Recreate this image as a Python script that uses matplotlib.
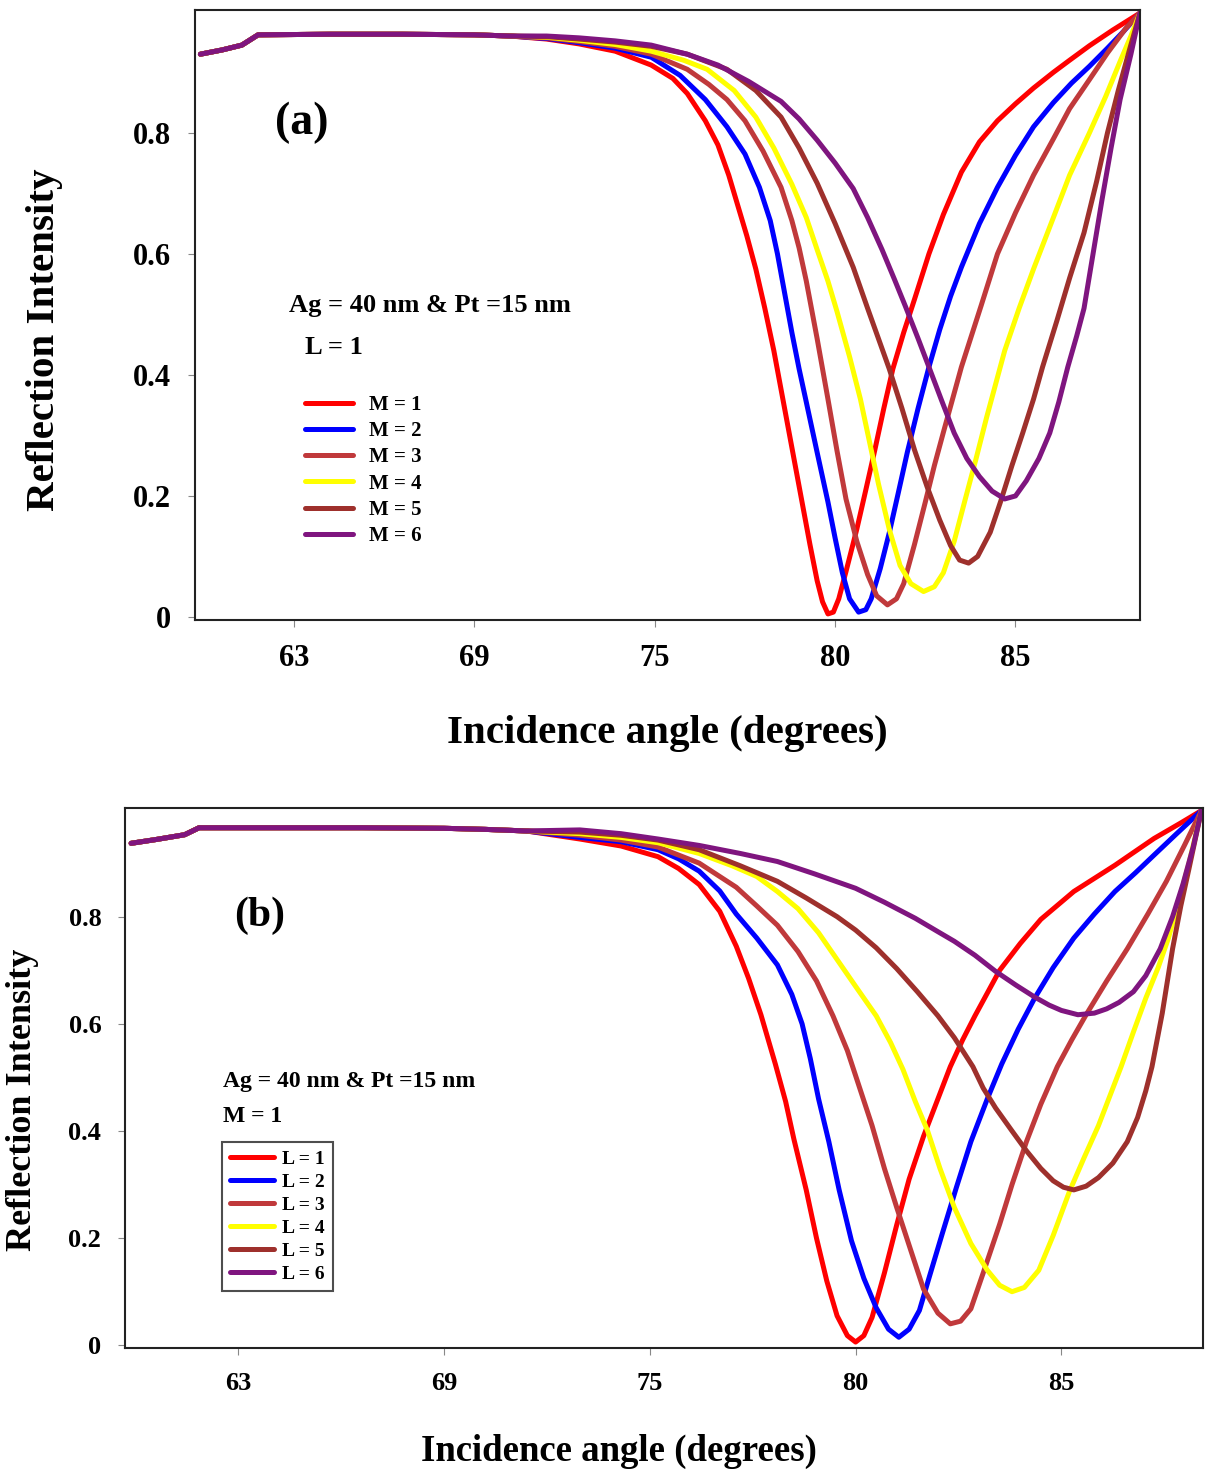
import matplotlib
matplotlib.use("Agg")
import matplotlib.pyplot as plt

plt.rcParams['font.family'] = ['Liberation Serif', 'DejaVu Serif']
plt.rcParams['font.weight'] = 'bold'

colors = ['#ff0000', '#0000ff', '#c0393b', '#ffff00', '#9e302c', '#7f157f']
tick_pos = [65, 70, 75, 80, 85]
tick_lab = ['63', '69', '75', '80', '85']
ytick_pos = [0, 0.2, 0.4, 0.6, 0.8]
ytick_lab = ['0', '0.2', '0.4', '0.6', '0.8']

# ---- panel (a): L = 1, M = 1..6 ----
a_head_x = [62.4, 63.0, 63.55, 64.0, 66.0, 68.0, 70.0, 71.0]
a_head_y = [0.930, 0.937, 0.945, 0.962, 0.963, 0.963, 0.962, 0.960]

a_x = [
    [72.0, 72.9, 73.9, 74.9, 75.5, 75.9, 76.4, 76.75, 77.05, 77.3, 77.55, 77.8, 78.05, 78.3,
     78.55, 78.8, 79.05, 79.3, 79.5, 79.65, 79.8, 79.95, 80.1, 80.3, 80.6, 80.85, 81.1, 81.35,
     81.6, 81.9, 82.2, 82.6, 83.0, 83.5, 84.0, 84.5, 85.0, 85.5, 86.05, 86.5, 87.05, 87.7, 88.45],
    [72.0, 72.9, 73.9, 74.9, 75.7, 76.4, 77.0, 77.5, 77.9, 78.2, 78.4, 78.6, 78.8, 79.0, 79.2,
     79.5, 79.8, 80.0, 80.2, 80.4, 80.65, 80.85, 81.0, 81.25, 81.5, 81.75, 82.0, 82.3, 82.6,
     82.9, 83.2, 83.5, 84.0, 84.5, 85.0, 85.5, 86.05, 86.55, 87.05, 87.55, 88.0, 88.45],
    [72.0, 72.9, 73.9, 74.9, 75.9, 76.5, 77.0, 77.5, 78.0, 78.5, 78.8, 79.0, 79.2, 79.5, 79.8,
     80.05, 80.3, 80.6, 80.9, 81.15, 81.45, 81.7, 81.9, 82.2, 82.5, 82.75, 83.0, 83.5, 84.05,
     84.5, 85.0, 85.5, 86.05, 86.5, 87.05, 87.55, 88.05, 88.45],
    [72.0, 72.9, 73.9, 74.9, 75.8, 76.45, 77.2, 77.8, 78.3, 78.8, 79.2, 79.5, 79.8, 80.05, 80.4,
     80.7, 80.95, 81.2, 81.5, 81.8, 82.1, 82.45, 82.75, 83.0, 83.3, 83.6, 83.9, 84.2, 84.45,
     84.7, 85.1, 85.5, 86.05, 86.5, 87.05, 87.5, 87.9, 88.2, 88.45],
    [72.0, 72.9, 73.9, 74.9, 75.9, 77.0, 77.8, 78.5, 79.0, 79.5, 80.0, 80.5, 80.9, 81.2, 81.5,
     81.85, 82.2, 82.55, 82.9, 83.2, 83.45, 83.7, 83.95, 84.3, 84.6, 84.9, 85.2, 85.5, 85.75,
     86.15, 86.5, 86.9, 87.25, 87.55, 87.85, 88.15, 88.45],
    [72.0, 72.9, 73.9, 74.9, 75.9, 76.75, 77.6, 78.5, 79.0, 79.5, 80.0, 80.5, 80.9, 81.3, 81.65,
     81.95, 82.3, 82.6, 82.95, 83.3, 83.65, 84.0, 84.35, 84.7, 85.0, 85.3, 85.65, 85.95, 86.2,
     86.45, 86.7, 86.9, 87.15, 87.4, 87.65, 87.9, 88.2, 88.45],
]
a_y = [
    [0.955, 0.947, 0.935, 0.912, 0.89, 0.865, 0.82, 0.78, 0.73, 0.68, 0.63, 0.575, 0.51, 0.44,
     0.36, 0.28, 0.2, 0.12, 0.06, 0.025, 0.005, 0.008, 0.03, 0.075, 0.145, 0.21, 0.276, 0.345,
     0.41, 0.47, 0.525, 0.6, 0.665, 0.735, 0.785, 0.82, 0.848, 0.874, 0.90, 0.92, 0.944, 0.97, 0.998],
    [0.956, 0.949, 0.94, 0.925, 0.895, 0.855, 0.81, 0.765, 0.71, 0.655, 0.60, 0.535, 0.47, 0.41,
     0.355, 0.272, 0.19, 0.13, 0.073, 0.03, 0.008, 0.012, 0.03, 0.08, 0.139, 0.205, 0.272, 0.345,
     0.413, 0.475, 0.53, 0.578, 0.65, 0.71, 0.763, 0.81, 0.85, 0.882, 0.91, 0.94, 0.968, 0.998],
    [0.957, 0.951, 0.943, 0.93, 0.905, 0.88, 0.855, 0.82, 0.77, 0.71, 0.655, 0.61, 0.555, 0.46,
     0.36, 0.275, 0.195, 0.125, 0.07, 0.035, 0.02, 0.03, 0.055, 0.12, 0.19, 0.25, 0.305, 0.413,
     0.515, 0.6, 0.668, 0.73, 0.79, 0.84, 0.888, 0.932, 0.972, 0.998],
    [0.958, 0.953, 0.946, 0.935, 0.92, 0.905, 0.87, 0.826, 0.775, 0.715, 0.66, 0.607, 0.555,
     0.505, 0.43, 0.36, 0.29, 0.22, 0.145, 0.085, 0.055, 0.042, 0.05, 0.073, 0.125, 0.193, 0.26,
     0.33, 0.385, 0.44, 0.51, 0.575, 0.66, 0.73, 0.80, 0.86, 0.918, 0.96, 0.998],
    [0.959, 0.955, 0.95, 0.943, 0.93, 0.905, 0.87, 0.826, 0.775, 0.717, 0.65, 0.578, 0.51, 0.46,
     0.41, 0.345, 0.276, 0.215, 0.16, 0.118, 0.094, 0.089, 0.1, 0.14, 0.193, 0.25, 0.304, 0.36,
     0.413, 0.49, 0.56, 0.635, 0.72, 0.80, 0.87, 0.935, 0.998],
    [0.96, 0.957, 0.952, 0.945, 0.93, 0.912, 0.885, 0.852, 0.823, 0.788, 0.75, 0.708, 0.66,
     0.607, 0.557, 0.513, 0.46, 0.413, 0.358, 0.304, 0.262, 0.232, 0.208, 0.195, 0.2, 0.225,
     0.262, 0.304, 0.355, 0.413, 0.465, 0.51, 0.6, 0.69, 0.775, 0.855, 0.93, 0.998],
]
a_labels = ['M = 1', 'M = 2', 'M = 3', 'M = 4', 'M = 5', 'M = 6']

# ---- panel (b): M = 1, L = 1..6 ----
b_head_x = [62.4, 63.0, 63.7, 64.05, 66.0, 68.0, 70.0, 71.0, 72.0]
b_head_y = [0.937, 0.944, 0.953, 0.966, 0.966, 0.966, 0.965, 0.963, 0.960]

b_x = [
    [73.3, 74.3, 75.2, 75.7, 76.2, 76.7, 77.1, 77.4, 77.7, 78.05, 78.3, 78.5, 78.8, 79.05, 79.3,
     79.55, 79.8, 80.0, 80.2, 80.4, 80.7, 81.0, 81.3, 81.65, 82.0, 82.3, 82.6, 82.9, 83.5, 84.0,
     84.5, 85.3, 86.3, 87.25, 87.9, 88.4],
    [73.3, 74.3, 75.2, 75.7, 76.2, 76.7, 77.1, 77.6, 78.1, 78.45, 78.7, 78.9, 79.1, 79.35, 79.6,
     79.9, 80.2, 80.5, 80.8, 81.05, 81.3, 81.55, 81.8, 82.1, 82.45, 82.8, 83.2, 83.55, 83.95,
     84.35, 84.8, 85.3, 85.8, 86.3, 86.8, 87.25, 87.8, 88.4],
    [73.3, 74.3, 75.2, 76.2, 77.1, 77.6, 78.1, 78.6, 79.05, 79.45, 79.8, 80.1, 80.4, 80.7, 81.0,
     81.35, 81.65, 82.0, 82.3, 82.55, 82.8, 83.1, 83.5, 83.8, 84.15, 84.5, 84.9, 85.25, 85.6,
     86.1, 86.6, 87.1, 87.55, 88.0, 88.4],
    [73.3, 74.3, 75.2, 76.2, 77.0, 77.6, 78.1, 78.6, 79.1, 79.55, 80.0, 80.5, 80.85, 81.15, 81.45,
     81.75, 82.05, 82.4, 82.8, 83.2, 83.5, 83.8, 84.1, 84.45, 84.8, 85.2, 85.55, 85.9, 86.15,
     86.45, 86.75, 87.05, 87.35, 87.6, 87.85, 88.1, 88.4],
    [73.3, 74.3, 75.2, 76.2, 77.2, 78.1, 78.8, 79.55, 80.0, 80.5, 81.0, 81.5, 82.0, 82.4, 82.85,
     83.1, 83.4, 83.8, 84.15, 84.5, 84.8, 85.05, 85.3, 85.6, 85.9, 86.25, 86.6, 86.85, 87.05,
     87.2, 87.45, 87.7, 87.9, 88.1, 88.4],
    [73.3, 74.3, 75.2, 76.2, 77.2, 78.1, 79.0, 80.0, 80.7, 81.45, 82.0, 82.4, 82.9, 83.4, 83.9,
     84.35, 84.7, 85.0, 85.4, 85.8, 86.1, 86.4, 86.75, 87.05, 87.4, 87.7, 87.95, 88.2, 88.4],
]
b_y = [
    [0.945, 0.932, 0.912, 0.89, 0.86, 0.81, 0.745, 0.685, 0.617, 0.525, 0.455, 0.385, 0.29, 0.2,
     0.12, 0.055, 0.018, 0.006, 0.018, 0.052, 0.135, 0.225, 0.31, 0.39, 0.46, 0.52, 0.57, 0.615,
     0.7, 0.75, 0.795, 0.847, 0.896, 0.946, 0.975, 0.998],
    [0.948, 0.94, 0.925, 0.908, 0.885, 0.848, 0.805, 0.76, 0.71, 0.655, 0.6, 0.535, 0.46, 0.38,
     0.29, 0.195, 0.125, 0.07, 0.03, 0.015, 0.03, 0.065, 0.13, 0.207, 0.295, 0.38, 0.46, 0.525,
     0.59, 0.648, 0.705, 0.76, 0.805, 0.847, 0.882, 0.915, 0.955, 0.998],
    [0.952, 0.943, 0.93, 0.9, 0.855, 0.82, 0.784, 0.735, 0.68, 0.615, 0.55, 0.48, 0.41, 0.33,
     0.257, 0.175, 0.105, 0.06, 0.04, 0.045, 0.068, 0.135, 0.226, 0.3, 0.38, 0.45, 0.52, 0.57,
     0.617, 0.68, 0.74, 0.805, 0.866, 0.935, 0.998],
    [0.955, 0.948, 0.938, 0.918, 0.895, 0.875, 0.847, 0.815, 0.77, 0.72, 0.67, 0.615, 0.565,
     0.515, 0.455, 0.4, 0.33, 0.257, 0.19, 0.14, 0.112, 0.1, 0.108, 0.14, 0.205, 0.288, 0.35,
     0.41, 0.46, 0.52, 0.585, 0.648, 0.705, 0.76, 0.83, 0.9, 0.998],
    [0.958, 0.952, 0.943, 0.925, 0.895, 0.866, 0.835, 0.80, 0.775, 0.742, 0.703, 0.66, 0.615,
     0.574, 0.52, 0.48, 0.443, 0.4, 0.363, 0.33, 0.307, 0.295, 0.29, 0.297, 0.313, 0.34, 0.38,
     0.425, 0.475, 0.52, 0.62, 0.74, 0.82, 0.89, 0.998],
    [0.962, 0.955, 0.945, 0.933, 0.918, 0.903, 0.88, 0.853, 0.827, 0.797, 0.772, 0.754, 0.728,
     0.698, 0.672, 0.65, 0.635, 0.625, 0.617, 0.62, 0.628, 0.64, 0.66, 0.69, 0.74, 0.80, 0.86,
     0.93, 0.998],
]
b_labels = ['L = 1', 'L = 2', 'L = 3', 'L = 4', 'L = 5', 'L = 6']


def draw_panel(ax, head_x, head_y, xs, ys, labels, fs):
    for i in range(6):
        ax.plot(head_x + xs[i], head_y + ys[i], color=colors[i], lw=3.6,
                solid_joinstyle='round', solid_capstyle='round', label=labels[i])
    ax.set_xlim(62.25, 88.45)
    ax.set_ylim(-0.005, 1.003)
    ax.set_xticks(tick_pos)
    ax.set_xticklabels(tick_lab)
    ax.set_yticks(ytick_pos)
    ax.set_yticklabels(ytick_lab)
    ax.tick_params(direction='out', length=5, width=0.8, color='#888888',
                   labelsize=fs, pad=12)
    for s in ax.spines.values():
        s.set_linewidth(1.5)
        s.set_color('#222222')


fig = plt.figure(figsize=(12.05, 14.73), dpi=100)

ax1 = fig.add_axes([0.1618, 0.5791, 0.7842, 0.4141])
draw_panel(ax1, a_head_x, a_head_y, a_x, a_y, a_labels, 22)
ax1.set_xlabel('Incidence angle (degrees)', fontsize=29.5, fontweight='bold')
ax1.xaxis.set_label_coords(0.5, -0.155)
ax1.set_ylabel('Reflection Intensity', fontsize=29.5, fontweight='bold')
ax1.yaxis.set_label_coords(-0.14, 0.46)
ax1.text(0.113, 0.815, '(a)', transform=ax1.transAxes, fontsize=33,
         fontweight='bold', ha='center', va='center')
ax1.text(0.1, 0.516, 'Ag = 40 nm & Pt =15 nm', transform=ax1.transAxes,
         fontsize=19, fontweight='bold', va='center')
ax1.text(0.116, 0.4475, 'L = 1', transform=ax1.transAxes,
         fontsize=19, fontweight='bold', va='center')
ax1.legend(loc='upper left', bbox_to_anchor=(0.112, 0.376), frameon=False,
           prop={'size': 15, 'weight': 'bold'}, handlelength=2.3,
           handletextpad=0.75, labelspacing=0.3, borderpad=0.2, borderaxespad=0)

ax2 = fig.add_axes([0.1037, 0.0849, 0.8950, 0.3666])
draw_panel(ax2, b_head_x, b_head_y, b_x, b_y, b_labels, 19)
ax2.set_xlabel('Incidence angle (degrees)', fontsize=26.5, fontweight='bold')
ax2.xaxis.set_label_coords(0.458, -0.16)
ax2.set_ylabel('Reflection Intensity', fontsize=26, fontweight='bold')
ax2.yaxis.set_label_coords(-0.08, 0.46)
ax2.text(0.125, 0.80, '(b)', transform=ax2.transAxes, fontsize=30,
         fontweight='bold', ha='center', va='center')
ax2.text(0.0907, 0.4926, 'Ag = 40 nm & Pt =15 nm', transform=ax2.transAxes,
         fontsize=17, fontweight='bold', va='center')
ax2.text(0.0907, 0.428, 'M = 1', transform=ax2.transAxes,
         fontsize=17, fontweight='bold', va='center')
leg = ax2.legend(loc='upper left', bbox_to_anchor=(0.0898, 0.381), frameon=True,
                 fancybox=False, prop={'size': 14, 'weight': 'bold'}, handlelength=2.3,
                 handletextpad=0.4, labelspacing=0.28, borderpad=0.4, borderaxespad=0)
leg.get_frame().set_edgecolor('#222222')
leg.get_frame().set_linewidth(1.5)

fig.savefig('out.png', dpi=100)
